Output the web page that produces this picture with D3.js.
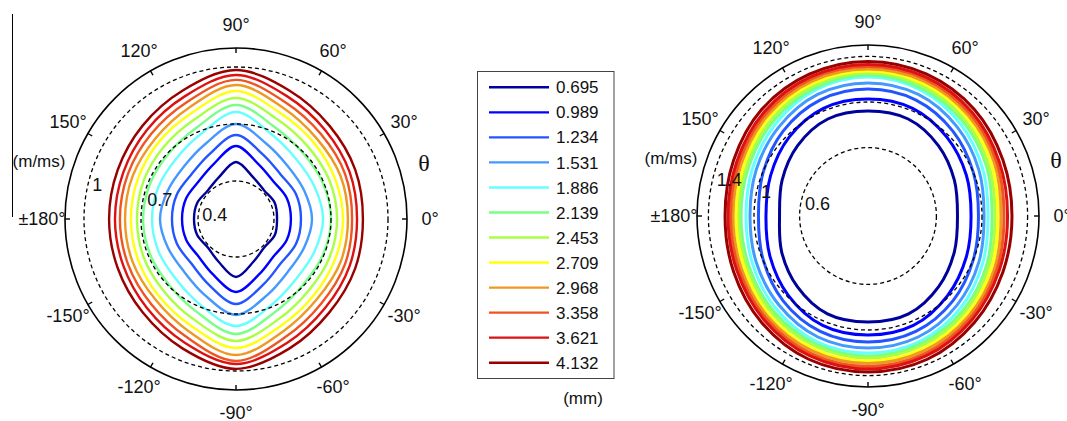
<!DOCTYPE html>
<html>
<head>
<meta charset="utf-8">
<script src="https://cdn.jsdelivr.net/npm/d3@7"></script>
<style>
  body { margin: 0; background: #fff; }
  text { font-family: "Liberation Sans", Arial, sans-serif; fill: #111; }
</style>
</head>
<body>
<svg id="chart" width="1067" height="421"></svg>
<script>
// contour levels (mm) and their jet-like colours
const levels = ['0.695', '0.989', '1.234', '1.531', '1.886', '2.139', '2.453', '2.709', '2.968', '3.358', '3.621', '4.132'];
const levelColors = ['#00009a', '#0000ff', '#2255ff', '#4499ff', '#66ffff', '#77ff88',
  '#aaff44', '#ffff11', '#ee9922', '#ee5522', '#dd1111', '#990000'];

// sample angles (deg, counter-clockwise from 0°)
const angles = [0, 22.5, 45, 67.5, 90, 112.5, 135, 157.5, 180, 202.5, 225, 247.5, 270, 292.5, 315, 337.5];

// radial velocity (m/ms) of each contour, left panel
const leftContours = [
  [0.416, 0.421, 0.411, 0.437, 0.500, 0.437, 0.411, 0.421, 0.421, 0.421, 0.411, 0.442, 0.505, 0.442, 0.411, 0.421],
  [0.489, 0.489, 0.479, 0.511, 0.584, 0.511, 0.479, 0.484, 0.484, 0.484, 0.479, 0.516, 0.584, 0.516, 0.479, 0.489],
  [0.542, 0.542, 0.532, 0.568, 0.642, 0.568, 0.532, 0.537, 0.537, 0.537, 0.532, 0.574, 0.647, 0.574, 0.532, 0.542],
  [0.600, 0.589, 0.589, 0.626, 0.700, 0.626, 0.589, 0.589, 0.600, 0.589, 0.589, 0.632, 0.705, 0.632, 0.589, 0.589],
  [0.658, 0.647, 0.647, 0.684, 0.763, 0.684, 0.647, 0.642, 0.642, 0.642, 0.647, 0.689, 0.763, 0.689, 0.647, 0.647],
  [0.700, 0.695, 0.695, 0.726, 0.800, 0.726, 0.695, 0.689, 0.689, 0.689, 0.695, 0.732, 0.805, 0.732, 0.695, 0.695],
  [0.732, 0.732, 0.737, 0.768, 0.837, 0.768, 0.737, 0.726, 0.721, 0.726, 0.737, 0.774, 0.842, 0.774, 0.737, 0.732],
  [0.763, 0.763, 0.774, 0.805, 0.874, 0.805, 0.774, 0.758, 0.753, 0.758, 0.774, 0.811, 0.879, 0.811, 0.774, 0.763],
  [0.789, 0.795, 0.800, 0.837, 0.905, 0.837, 0.800, 0.789, 0.784, 0.789, 0.800, 0.842, 0.916, 0.842, 0.800, 0.795],
  [0.811, 0.821, 0.832, 0.868, 0.932, 0.868, 0.832, 0.816, 0.811, 0.816, 0.832, 0.874, 0.947, 0.874, 0.832, 0.821],
  [0.837, 0.847, 0.863, 0.900, 0.958, 0.900, 0.863, 0.842, 0.837, 0.842, 0.863, 0.905, 0.963, 0.905, 0.863, 0.847],
  [0.868, 0.879, 0.895, 0.932, 0.984, 0.932, 0.895, 0.874, 0.868, 0.874, 0.895, 0.937, 0.989, 0.937, 0.895, 0.879]
];

// right panel
const rightContours = [
  [0.785, 0.820, 0.873, 0.921, 0.921, 0.921, 0.873, 0.816, 0.776, 0.820, 0.877, 0.930, 0.930, 0.930, 0.877, 0.820],
  [0.904, 0.934, 0.978, 1.022, 1.026, 1.022, 0.978, 0.925, 0.895, 0.930, 0.987, 1.039, 1.044, 1.039, 0.987, 0.934],
  [0.969, 1.000, 1.053, 1.101, 1.114, 1.101, 1.053, 0.996, 0.961, 0.996, 1.053, 1.096, 1.105, 1.096, 1.053, 1.000],
  [1.018, 1.053, 1.105, 1.154, 1.167, 1.154, 1.105, 1.061, 1.035, 1.061, 1.105, 1.149, 1.158, 1.149, 1.105, 1.053],
  [1.053, 1.088, 1.145, 1.197, 1.219, 1.197, 1.145, 1.096, 1.070, 1.096, 1.145, 1.189, 1.202, 1.189, 1.145, 1.088],
  [1.088, 1.127, 1.175, 1.215, 1.237, 1.215, 1.175, 1.132, 1.114, 1.132, 1.175, 1.211, 1.228, 1.211, 1.175, 1.127],
  [1.114, 1.149, 1.197, 1.237, 1.254, 1.237, 1.197, 1.154, 1.136, 1.154, 1.197, 1.232, 1.246, 1.232, 1.197, 1.149],
  [1.140, 1.175, 1.224, 1.259, 1.272, 1.259, 1.224, 1.175, 1.158, 1.175, 1.224, 1.259, 1.272, 1.259, 1.224, 1.175],
  [1.167, 1.202, 1.246, 1.281, 1.289, 1.281, 1.246, 1.202, 1.184, 1.202, 1.246, 1.281, 1.294, 1.281, 1.246, 1.202],
  [1.193, 1.224, 1.268, 1.303, 1.311, 1.303, 1.268, 1.224, 1.206, 1.224, 1.268, 1.307, 1.320, 1.307, 1.268, 1.224],
  [1.224, 1.246, 1.289, 1.320, 1.329, 1.320, 1.289, 1.246, 1.228, 1.246, 1.289, 1.329, 1.342, 1.329, 1.289, 1.246],
  [1.263, 1.281, 1.320, 1.346, 1.355, 1.346, 1.320, 1.276, 1.254, 1.276, 1.320, 1.360, 1.368, 1.360, 1.320, 1.281]
];

const angleTicks = [0, 30, 60, 90, 120, 150, 180, 210, 240, 270, 300, 330];
const angleLabels = ['0°', '30°', '60°', '90°', '120°', '150°', '±180°', '-150°', '-120°', '-90°', '-60°', '-30°'];
const leftRings = [0.4, 0.7, 1];
const rightRings = [0.6, 1, 1.4];

const svg = d3.select('#chart');
const outerR = 171;
const labelR = 194;

function drawPolar(cx, cy, rDomain, rings, contours, lineWidth) {
  const g = svg.append('g').attr('transform', `translate(${cx},${cy})`);
  const r = d3.scaleLinear().domain(rDomain).range([0, outerR]);
  // theta (deg) -> d3 radial angle (clockwise from 12 o'clock)
  const a = d3.scaleLinear().domain([0, 360]).range([Math.PI / 2, Math.PI / 2 - 2 * Math.PI]);
  const px = (rad, deg) => rad * Math.sin(a(deg));
  const py = (rad, deg) => -rad * Math.cos(a(deg));

  const line = d3
    .lineRadial()
    .angle((d, i) => a(angles[i]))
    .radius(d => r(d))
    .curve(d3.curveCatmullRomClosed.alpha(0.5));

  g.selectAll('path.contour')
    .data(contours)
    .enter()
    .append('path')
    .attr('class', 'contour')
    .attr('d', line)
    .attr('fill', 'none')
    .attr('stroke', (d, i) => levelColors[i])
    .attr('stroke-width', lineWidth);

  g.selectAll('circle.ring')
    .data(rings)
    .enter()
    .append('circle')
    .attr('class', 'ring')
    .attr('r', d => r(d))
    .attr('fill', 'none')
    .attr('stroke', '#000')
    .attr('stroke-width', 1.3)
    .attr('stroke-dasharray', '4,3');

  g.append('circle')
    .attr('r', outerR)
    .attr('fill', 'none')
    .attr('stroke', '#000')
    .attr('stroke-width', 1.6);

  g.selectAll('line.tick')
    .data(angleTicks)
    .enter()
    .append('line')
    .attr('x1', d => px(outerR, d))
    .attr('y1', d => py(outerR, d))
    .attr('x2', d => px(outerR - 5, d))
    .attr('y2', d => py(outerR - 5, d))
    .attr('stroke', '#000')
    .attr('stroke-width', 1.4);

  g.selectAll('text.angle')
    .data(angleTicks)
    .enter()
    .append('text')
    .attr('x', d => px(labelR, d))
    .attr('y', d => py(labelR, d))
    .attr('dy', '0.34em')
    .attr('text-anchor', 'middle')
    .style('font-size', '18px')
    .text((d, i) => angleLabels[i]);

  // ring value labels along the 165° direction
  g.selectAll('text.rlabel')
    .data(rings)
    .enter()
    .append('text')
    .attr('x', d => px(r(d), 165) + 3)
    .attr('y', d => py(r(d), 165) + 5)
    .attr('dy', '0.36em')
    .style('font-size', '18px')
    .text(d => d);

  g.append('text')
    .attr('x', -197)
    .attr('y', -58)
    .attr('dy', '0.36em')
    .attr('text-anchor', 'middle')
    .style('font-size', '17px')
    .text('(m/ms)');

  g.append('text')
    .attr('x', 188)
    .attr('y', -57)
    .attr('dy', '0.36em')
    .attr('text-anchor', 'middle')
    .style('font-family', '"Liberation Serif", "Times New Roman", serif')
    .style('font-size', '24px')
    .text('θ');
}

svg.append('line')
  .attr('x1', 12.5).attr('x2', 12.5)
  .attr('y1', 14).attr('y2', 217)
  .attr('stroke', '#000')
  .attr('stroke-width', 1);

drawPolar(236, 219, [0.2, 1.1], leftRings, leftContours, 2.4);
drawPolar(868, 216, [0, 1.5], rightRings, rightContours, 3);

// legend
const legY = d3.scalePoint().domain(levels).range([87.3, 362.7]);
const legend = svg.append('g');
legend.append('rect')
  .attr('x', 477.5).attr('y', 71.5)
  .attr('width', 136.5).attr('height', 307)
  .attr('fill', '#fff')
  .attr('stroke', '#444')
  .attr('stroke-width', 1);

legend.selectAll('line.key')
  .data(levels)
  .enter()
  .append('line')
  .attr('x1', 489).attr('x2', 549)
  .attr('y1', d => legY(d)).attr('y2', d => legY(d))
  .attr('stroke', (d, i) => levelColors[i])
  .attr('stroke-width', 2.4);

legend.selectAll('text.key')
  .data(levels)
  .enter()
  .append('text')
  .attr('x', 556)
  .attr('y', d => legY(d))
  .attr('dy', '0.36em')
  .style('font-size', '17px')
  .text(d => d);

legend.append('text')
  .attr('x', 583).attr('y', 398)
  .attr('dy', '0.36em')
  .attr('text-anchor', 'middle')
  .style('font-size', '17px')
  .text('(mm)');
</script>
</body>
</html>
